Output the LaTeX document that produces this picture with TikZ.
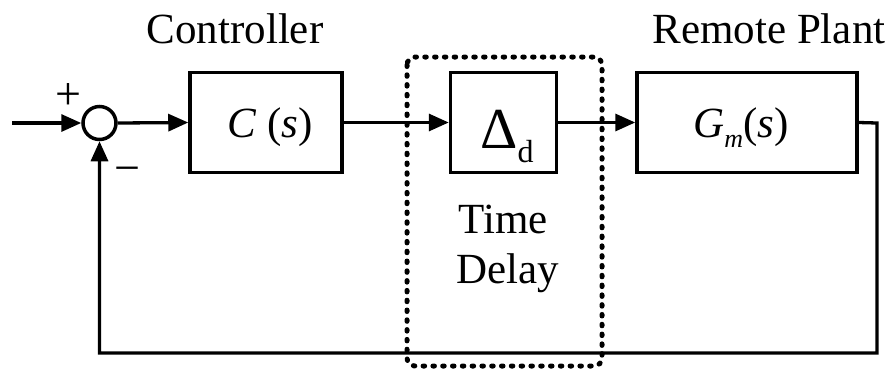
\documentclass[tikz,border=0pt]{standalone}
\usepackage{fontspec}
\setmainfont{Liberation Serif}
\usetikzlibrary{arrows.meta}
\begin{document}
\begin{tikzpicture}[x=1pt,y=-1pt,
  line width=3.3pt,
  blk/.style={draw,line width=3.5pt,inner sep=0pt,minimum width=#1,minimum height=100pt},
  lbl/.style={anchor=base,inner sep=0pt,font=\fontsize{43}{50}\selectfont},
  arr/.style={-{Triangle[length=20pt,width=17pt]}},
  dotbox/.style={line width=5pt,line cap=round,dash pattern=on 1.5pt off 8.3pt,rounded corners=8pt}]
\useasboundingbox (0,0) rectangle (891,368);
% summing junction
\node (sum) [draw,circle,line width=3.5pt,minimum size=33pt,inner sep=0pt] at (99.5,123) {};
\coordinate (in) at (12,123);
% blocks
\node (C) [blk=152pt] at (266,122.5) {};
\node (D) [blk=106pt] at (503.5,122.5) {};
\node (G) [blk=220pt] at (747,122.5) {};
% block texts
\node (Ct) [lbl] at (270,137) {\textit{C} (\textit{s})};
\node (Dt) [anchor=base,inner sep=0pt] at (507,148) {\fontsize{58}{60}\selectfont Δ\raisebox{-14pt}{\fontsize{32}{34}\selectfont d}};
\node (Gt) [lbl] at (741,137) {\textit{G}\raisebox{-10pt}{\fontsize{26}{28}\selectfont\textit{m}}(\textit{s})};
% labels
\node (ctrl) [lbl] at (235,43) {Controller};
\node (plant) [lbl] at (769,43) {Remote Plant};
\node (time) [lbl] at (503,233) {Time};
\node (delay) [lbl] at (508,283) {Delay};
\node (plus) [inner sep=0pt,font=\fontsize{46}{50}\selectfont] at (68,96) {+};
\node (minus) [inner sep=0pt,font=\fontsize{46}{50}\selectfont] at (127,175) {−};
% dotted time delay region
\draw[dotbox] (407,57) rectangle (602,366);
% connectors
\coordinate (out) at (877,123);
\coordinate (br) at (877,353);
\coordinate (bl) at (99.5,353);
\draw[arr] (in) -- (sum.west);
\draw[arr] (sum.east) -- (C.west);
\draw[arr] (C.east) -- (D.west);
\draw[arr] (D.east) -- (G.west);
\draw[arr] (G.east) -- (out) -- (br) -- (bl) -- (sum.south);
\end{tikzpicture}
\end{document}
